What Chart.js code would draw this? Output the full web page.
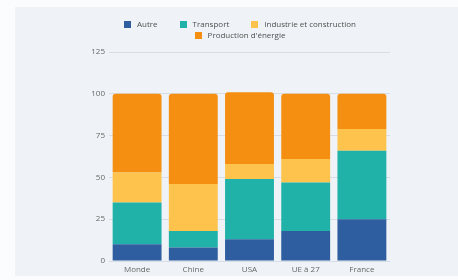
<!DOCTYPE html>
<html>
<head>
<meta charset="utf-8">
<script src="https://cdn.jsdelivr.net/npm/chart.js@4/dist/chart.umd.min.js"></script>
<style>
  html, body { margin: 0; padding: 0; }
  body { width: 458px; height: 280px; overflow: hidden; position: relative;
         background: #fbfcfd; font-family: "Open Sans", sans-serif; }
  #panel { position: absolute; left: 15px; top: 7px; width: 443px; height: 269px; background: #eff3f7; }
  #wrap { position: absolute; left: 0; top: 0; width: 458px; height: 280px; }
  #legend { position: absolute; left: 60px; top: 18px; width: 360px; text-align: center;
            font-size: 8px; line-height: 11px; color: #4f4f4f; }
  .item { display: inline-block; margin: 0 11px; white-space: nowrap; }
  .box { display: inline-block; width: 7px; height: 7px; margin-right: 6px; vertical-align: -0.5px; }
</style>
</head>
<body>
<div id="panel"></div>
<div id="wrap"><canvas id="c" width="458" height="280"></canvas></div>
<div id="legend"></div>
<script>
const categories = ["Monde", "Chine", "USA", "UE à 27", "France"];
const seriesNames = ["Autre", "Transport", "Industrie et construction", "Production d'énergie"];
const autre = [10, 8, 13, 18, 25];
const transport = [25, 10, 36, 29, 41];
const industrie = [18, 28, 9, 14, 13];
const production = [47, 54, 43, 39, 21];
const yTicks = [0, 25, 50, 75, 100, 125];
const colors = ["#2e5e9f", "#20b1a8", "#fdc34d", "#f48f12"];

const seriesValues = [autre, transport, industrie, production];

const datasets = seriesValues.map((vals, i) => ({
  label: seriesNames[i],
  data: vals,
  backgroundColor: colors[i],
  borderWidth: 0,
  borderRadius: i === seriesValues.length - 1
    ? { topLeft: 3, topRight: 3, bottomLeft: 0, bottomRight: 0 } : 0,
  borderSkipped: false,
  categoryPercentage: 1,
  barPercentage: 0.87
}));

new Chart(document.getElementById("c"), {
  type: "bar",
  data: { labels: categories, datasets },
  options: {
    responsive: false,
    animation: false,
    layout: { padding: { left: 79, right: 68, top: 52, bottom: 0 } },
    plugins: { legend: { display: false }, tooltip: { enabled: false } },
    scales: {
      x: {
        stacked: true,
        grid: { display: false, drawTicks: false },
        border: { display: false },
        ticks: { color: "#666", font: { family: "Open Sans", size: 8 }, padding: 4 },
        afterFit: s => { s.height = 19; }
      },
      y: {
        stacked: true,
        min: yTicks[0],
        max: yTicks[yTicks.length - 1],
        afterBuildTicks: s => { s.ticks = yTicks.map(v => ({ value: v })); },
        grid: { color: "#d6dde6", drawTicks: false, lineWidth: 1 },
        border: { display: false },
        ticks: { color: "#666", font: { family: "Open Sans", size: 8 }, padding: 4 },
        afterFit: s => { s.width = 30; }
      }
    }
  }
});

const legend = document.getElementById("legend");
seriesNames.forEach((name, i) => {
  const item = document.createElement("span");
  item.className = "item";
  const box = document.createElement("span");
  box.className = "box";
  box.style.background = colors[i];
  item.appendChild(box);
  item.appendChild(document.createTextNode(name));
  legend.appendChild(item);
  if (i === 2) legend.appendChild(document.createElement("br"));
});
</script>
</body>
</html>
